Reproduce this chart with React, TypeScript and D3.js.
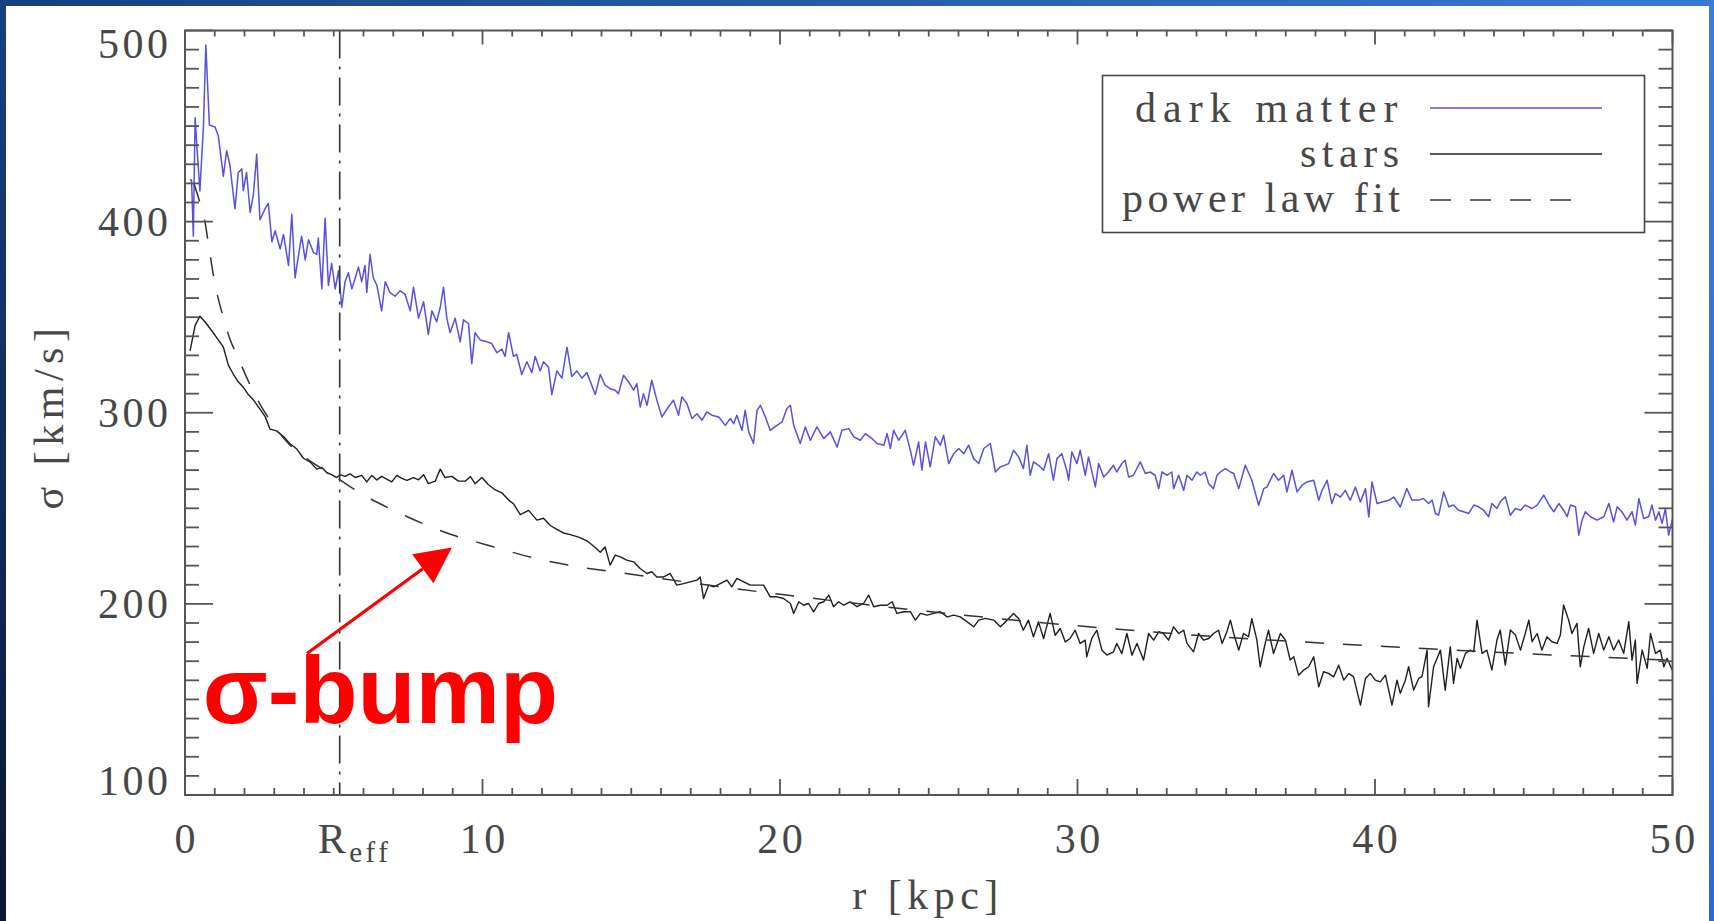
import React from "react";
import * as d3 from "d3";

const layout = {
    width: 1714,
    height: 921,
    left: 185,
    right: 1672.5,
    top: 30.5,
    bottom: 795
};

const radiusDomain = [0, 50];
const sigmaDomain = [100, 500];
const xTickValues = [0, 10, 20, 30, 40, 50];
const xTickLabels = ["0", "10", "20", "30", "40", "50"];
const yTickValues = [100, 200, 300, 400, 500];
const yTickLabels = ["100", "200", "300", "400", "500"];
const rEff = 5.2;

// [r (kpc), sigma (km/s)]
const darkMatter: [number, number][] = [
    [0.17, 421.6], [0.22, 421.9], [0.28, 392.4], [0.34, 454.3], [0.41, 437.0], [0.5, 416.0], [0.62, 450.0], [0.7, 492.4], [0.82, 450.5], [1.01, 449.5],
    [1.12, 444.8], [1.29, 423.8], [1.4, 437.1], [1.51, 429.5], [1.68, 406.7], [1.79, 425.7], [1.91, 427.6], [1.96, 416.2], [2.07, 425.7], [2.19, 404.8],
    [2.3, 414.3], [2.41, 435.2], [2.52, 401.0], [2.69, 406.7], [2.8, 409.5], [2.92, 389.5], [3.03, 395.2], [3.2, 385.7], [3.31, 393.3], [3.48, 377.1],
    [3.59, 403.8], [3.7, 370.5], [3.81, 381.9], [3.92, 392.4], [4.04, 380.0], [4.15, 390.5], [4.32, 383.8], [4.43, 382.9], [4.48, 391.4], [4.6, 364.8],
    [4.71, 401.9], [4.82, 366.7], [4.93, 378.1], [5.05, 364.8], [5.16, 374.3], [5.27, 355.2], [5.38, 368.6], [5.49, 373.3], [5.61, 364.8], [5.72, 370.5],
    [5.83, 376.2], [5.94, 368.6], [6.05, 377.1], [6.11, 362.9], [6.22, 382.9], [6.33, 370.5], [6.45, 366.7], [6.61, 353.3], [6.73, 368.6], [6.89, 362.9],
    [7.06, 361.0], [7.23, 363.8], [7.4, 361.9], [7.57, 353.3], [7.68, 365.7], [7.85, 349.5], [8.02, 358.1], [8.18, 341.0], [8.3, 353.3], [8.46, 347.6],
    [8.58, 355.2], [8.69, 365.7], [8.8, 349.5], [8.91, 341.9], [9.08, 349.5], [9.25, 337.1], [9.36, 348.6], [9.53, 346.7], [9.64, 325.7], [9.75, 341.9],
    [9.92, 338.1], [10.15, 337.1], [10.31, 336.2], [10.48, 331.4], [10.65, 333.3], [10.76, 329.5], [10.88, 341.9], [11.04, 329.5], [11.15, 330.5], [11.32, 320.0],
    [11.49, 326.7], [11.66, 321.0], [11.77, 329.5], [11.94, 321.9], [12.05, 326.7], [12.22, 323.8], [12.33, 309.5], [12.5, 321.9], [12.67, 318.1], [12.84, 334.3],
    [13.0, 319.0], [13.17, 321.9], [13.34, 318.1], [13.51, 321.0], [13.79, 309.5], [13.96, 320.0],
    [14.12, 314.4], [14.29, 312.6], [14.46, 311.8], [14.57, 310.0], [14.74, 319.6], [14.91, 316.1], [15.08, 311.8], [15.19, 315.2], [15.3, 303.0], [15.41, 310.0],
    [15.53, 303.9], [15.69, 317.0], [15.86, 306.6], [16.03, 297.8], [16.25, 303.0], [16.42, 306.6], [16.59, 298.7], [16.7, 308.3], [16.87, 304.8], [17.04, 297.0],
    [17.21, 299.5], [17.38, 296.1], [17.54, 300.4], [17.71, 298.7], [17.94, 297.8], [18.16, 293.4], [18.33, 297.0], [18.44, 294.3], [18.55, 298.7], [18.72, 290.8],
    [18.83, 301.3], [18.95, 290.0], [19.11, 283.9], [19.23, 301.3], [19.34, 303.9], [19.51, 297.8], [19.67, 290.8], [19.9, 293.4], [20.07, 295.2], [20.23, 302.2],
    [20.35, 303.9], [20.46, 293.4], [20.68, 283.9], [20.85, 292.6], [21.02, 285.6], [21.24, 292.6], [21.47, 286.5], [21.69, 290.0], [21.92, 282.1], [22.08, 290.8],
    [22.31, 291.7], [22.48, 287.4], [22.7, 285.6], [22.87, 289.1], [23.09, 286.5], [23.26, 283.9], [23.49, 283.0], [23.6, 289.1], [23.71, 281.3], [23.82, 290.8],
    [23.99, 285.6], [24.21, 290.8], [24.38, 280.4], [24.49, 272.5], [24.66, 284.7], [24.77, 269.9], [24.89, 284.7], [25.05, 271.7], [25.22, 287.4], [25.39, 283.0],
    [25.5, 288.2], [25.67, 273.4], [25.84, 278.6], [26.01, 281.3], [26.18, 278.6], [26.34, 283.0], [26.51, 276.0], [26.68, 273.4], [26.85, 281.3], [27.07, 283.9],
    [27.24, 269.0], [27.41, 271.7], [27.69, 273.4],
    [27.85, 280.4], [28.02, 276.9], [28.18, 270.8], [28.3, 283.0], [28.41, 267.3], [28.52, 274.3], [28.69, 272.5], [28.86, 269.9], [29.03, 278.6], [29.19, 264.7],
    [29.31, 276.0], [29.47, 278.6], [29.64, 269.9], [29.7, 264.7], [29.81, 279.5], [29.98, 273.4], [30.09, 280.4], [30.26, 267.3], [30.37, 276.9], [30.6, 261.2],
    [30.71, 273.4], [30.88, 266.4], [31.04, 269.0], [31.21, 272.5], [31.32, 269.0], [31.49, 273.4], [31.6, 275.1], [31.72, 266.4], [31.88, 267.3], [32.11, 274.3],
    [32.28, 268.2], [32.44, 269.0], [32.61, 267.3], [32.73, 260.3], [32.84, 269.0], [33.01, 267.3], [33.17, 269.0], [33.23, 260.3], [33.4, 267.3], [33.57, 259.4],
    [33.68, 267.3], [33.85, 264.7], [34.01, 269.0], [34.13, 267.3], [34.29, 269.0], [34.41, 262.9], [34.57, 260.3], [34.69, 267.3], [34.8, 269.0], [34.97, 270.8],
    [35.14, 269.0], [35.25, 268.2], [35.42, 260.3], [35.64, 272.5], [35.86, 264.7], [36.09, 251.6], [36.26, 260.3], [36.37, 261.2], [36.59, 268.2], [36.76, 264.7],
    [36.93, 267.3], [37.04, 258.6], [37.21, 269.9], [37.38, 258.6], [37.55, 262.1], [37.71, 263.8], [37.94, 264.7], [38.11, 254.2], [38.22, 259.4], [38.39, 264.7],
    [38.55, 252.5], [38.67, 257.7], [38.84, 255.9], [39.0, 259.4], [39.17, 254.2], [39.34, 261.2], [39.51, 253.3], [39.68, 260.3], [39.79, 245.5], [39.9, 263.8],
    [40.07, 252.5], [40.24, 253.3], [40.46, 254.2], [40.63, 255.9], [40.85, 250.7],
    [41.07, 260.4], [41.24, 254.3], [41.47, 254.3], [41.63, 255.1], [41.8, 252.5], [41.92, 254.3], [42.03, 247.3], [42.14, 246.4], [42.31, 258.6], [42.48, 250.8],
    [42.64, 251.7], [42.81, 249.0], [42.98, 248.2], [43.15, 247.3], [43.32, 251.7], [43.48, 250.8], [43.65, 249.0], [43.82, 245.6], [43.93, 252.5], [44.1, 249.9],
    [44.21, 253.4], [44.38, 256.0], [44.55, 246.4], [44.72, 249.9], [44.89, 249.0], [45.05, 251.7], [45.28, 249.9], [45.45, 251.7], [45.67, 256.9], [45.89, 250.8],
    [46.01, 248.2], [46.18, 252.5], [46.34, 249.0], [46.46, 245.6], [46.57, 251.7], [46.74, 250.8], [46.85, 236.0], [46.96, 243.8], [47.07, 248.2], [47.24, 245.6],
    [47.46, 243.8], [47.69, 245.6], [47.86, 252.5], [48.02, 242.9], [48.14, 250.8], [48.3, 248.2], [48.47, 243.8], [48.64, 248.2], [48.75, 241.2], [48.87, 255.1],
    [49.03, 244.7], [49.2, 245.6], [49.31, 251.7], [49.43, 243.8], [49.54, 248.2], [49.65, 242.1], [49.76, 249.9], [49.87, 236.0], [49.99, 243.8]
];

const stars: [number, number][] = [
    [0.17, 332.4], [0.34, 345.7], [0.5, 350.5], [0.67, 347.6], [0.9, 342.9], [1.12, 338.1], [1.29, 334.3], [1.46, 324.8], [1.63, 320.0], [1.79, 316.2],
    [1.96, 313.3], [2.13, 309.5], [2.3, 306.7], [2.52, 301.9], [2.69, 298.1], [2.86, 291.4], [3.08, 290.5], [3.31, 287.6], [3.53, 283.8], [3.76, 281.0],
    [3.98, 276.2], [4.2, 274.3], [4.43, 270.5], [4.6, 271.4], [4.77, 268.6], [4.93, 267.6], [5.1, 266.1], [5.21, 267.6], [5.38, 266.7], [5.55, 268.0],
    [5.72, 266.1], [5.94, 267.2], [6.11, 263.8], [6.28, 267.2], [6.45, 264.8], [6.61, 266.7], [6.78, 265.3], [6.95, 263.8], [7.12, 267.2], [7.29, 265.7],
    [7.46, 264.6], [7.68, 266.1], [7.85, 264.9], [8.02, 267.6], [8.18, 262.9], [8.41, 264.2], [8.58, 270.5], [8.74, 266.1], [8.97, 266.7], [9.19, 264.2],
    [9.42, 264.2], [9.59, 266.7], [9.75, 262.9], [9.98, 266.1], [10.2, 262.3], [10.43, 259.6], [10.65, 258.1], [10.88, 254.3], [11.04, 252.4], [11.27, 246.7],
    [11.55, 248.9], [11.83, 243.8], [12.05, 244.8], [12.28, 241.0], [12.5, 239.0], [12.72, 237.1], [12.95, 236.2], [13.23, 234.9], [13.51, 233.0], [13.79, 229.5],
    [13.96, 227.0],
    [14.12, 229.8], [14.29, 220.3], [14.46, 225.5], [14.63, 224.6], [14.85, 222.9], [15.08, 222.0], [15.3, 218.5], [15.53, 215.9], [15.69, 216.8], [15.86, 214.1],
    [16.09, 214.1], [16.31, 215.9], [16.53, 209.8], [16.76, 210.6], [16.98, 211.5], [17.21, 212.4], [17.32, 214.1], [17.43, 202.8], [17.6, 209.8], [17.77, 208.9],
    [17.99, 210.6], [18.22, 212.4], [18.38, 208.9], [18.55, 213.3], [18.78, 211.5], [19.0, 209.8], [19.23, 209.8], [19.45, 209.8], [19.67, 203.7], [19.9, 203.7],
    [20.12, 202.8], [20.35, 200.2], [20.46, 195.0], [20.63, 201.1], [20.79, 199.3], [20.96, 200.2], [21.13, 195.8], [21.3, 200.2], [21.47, 201.1], [21.64, 204.6],
    [21.8, 198.5], [21.97, 201.1], [22.14, 199.3], [22.36, 201.1], [22.59, 198.5], [22.81, 200.2], [22.98, 204.6], [23.15, 198.5], [23.37, 199.3], [23.6, 199.3],
    [23.77, 201.1], [23.93, 195.0], [24.16, 195.9], [24.38, 195.9], [24.55, 191.5], [24.72, 195.0], [24.94, 194.1], [25.17, 195.0], [25.39, 195.9], [25.62, 193.2],
    [25.84, 194.1], [26.06, 193.2], [26.29, 190.6], [26.51, 188.0], [26.68, 191.5], [26.9, 192.4], [27.18, 191.5], [27.41, 188.0], [27.69, 192.4],
    [27.85, 195.0], [28.02, 192.3], [28.18, 186.2], [28.35, 191.5], [28.52, 182.8], [28.69, 190.6], [28.86, 181.9], [29.08, 195.0], [29.25, 183.6], [29.42, 187.1],
    [29.59, 180.1], [29.75, 181.9], [29.92, 186.2], [30.09, 179.3], [30.26, 181.0], [30.31, 172.3], [30.48, 181.9], [30.65, 186.2], [30.82, 175.8], [30.99, 173.2],
    [31.21, 174.9], [31.32, 179.3], [31.49, 174.0], [31.66, 184.5], [31.83, 173.2], [32.0, 179.3], [32.22, 170.6], [32.39, 184.5], [32.56, 181.0], [32.73, 185.4],
    [32.89, 184.5], [33.06, 181.0], [33.23, 188.0], [33.4, 184.5], [33.57, 186.2], [33.68, 179.3], [33.9, 174.9], [34.07, 184.5], [34.24, 181.0], [34.41, 181.9],
    [34.57, 184.5], [34.74, 186.2], [34.86, 179.3], [35.02, 185.4], [35.14, 191.5], [35.25, 184.5], [35.42, 175.8], [35.58, 184.5], [35.75, 182.8], [35.86, 192.3],
    [36.03, 181.0], [36.14, 167.1], [36.31, 179.3], [36.42, 186.2], [36.59, 174.0], [36.82, 184.5], [36.99, 181.0], [37.15, 170.6], [37.27, 172.3], [37.43, 162.7],
    [37.6, 165.3], [37.77, 167.1], [37.94, 172.3], [38.11, 156.6], [38.27, 164.5], [38.44, 163.6], [38.61, 161.8], [38.78, 167.9], [38.95, 160.1], [39.12, 163.6],
    [39.28, 161.8], [39.51, 147.0], [39.68, 161.0], [39.84, 163.6], [40.01, 160.1], [40.18, 159.2], [40.35, 162.7], [40.57, 147.0], [40.74, 160.1],
    [40.85, 153.2], [41.02, 160.1], [41.13, 167.1], [41.3, 154.9], [41.47, 161.0], [41.58, 161.9], [41.75, 175.8], [41.8, 146.2], [41.97, 167.1], [42.2, 175.8],
    [42.36, 154.9], [42.53, 177.6], [42.64, 158.4], [42.76, 171.5], [42.87, 166.3], [43.04, 174.1], [43.2, 175.8], [43.32, 175.0], [43.43, 191.5], [43.6, 174.1],
    [43.76, 175.8], [43.93, 165.4], [44.1, 181.1], [44.21, 186.3], [44.38, 168.0], [44.55, 186.3], [44.72, 183.7], [44.89, 175.8], [45.05, 184.5], [45.17, 191.5],
    [45.28, 180.2], [45.45, 184.5], [45.61, 175.8], [45.78, 182.8], [45.95, 180.2], [46.12, 179.3], [46.23, 183.7], [46.34, 199.4], [46.51, 191.5], [46.62, 184.5],
    [46.79, 189.8], [46.9, 167.1], [47.02, 177.6], [47.18, 187.2], [47.35, 174.1], [47.52, 184.5], [47.69, 175.8], [47.86, 182.8], [48.02, 175.8], [48.19, 181.1],
    [48.36, 174.1], [48.53, 190.7], [48.64, 170.6], [48.75, 181.1], [48.81, 158.4], [48.98, 175.8], [49.15, 166.3], [49.26, 184.5], [49.43, 174.1], [49.59, 175.8],
    [49.71, 167.1], [49.82, 171.5], [49.99, 165.4]
];

const fitRadius = [0.3, 0.5, 0.67, 0.8, 1, 1.25, 1.5, 1.75, 2, 2.5, 3, 3.5, 4, 5, 6, 7, 8, 9, 10, 11, 12, 13, 15, 17.5, 20, 25, 30, 35, 40, 45, 50];
const fitSigma = [420, 410, 400, 387, 368, 352, 339, 330, 321, 305, 293, 283.5, 277, 267, 257, 249, 242, 236, 231.5, 227, 223, 220, 215.5, 210, 205, 196, 188.5, 182.5, 178, 174, 170.5];

const legendItems = [
    { label: "dark matter", color: "#5a4fe0", dash: undefined },
    { label: "stars", color: "#222", dash: undefined },
    { label: "power law fit", color: "#333", dash: "21,19" }
];

const bumpLabel = "σ-bump";
const bumpTextAt = [0.6, 137.6];
const bumpArrowFrom = [4.1, 174];
const bumpArrowTo = [8.97, 229.5];

const serif = "'Liberation Serif', 'Times New Roman', serif";
const ink = "#474747";

const App = () => {
    const xScale = d3.scaleLinear().domain(radiusDomain).range([layout.left, layout.right]);
    const yScale = d3.scaleLinear().domain(sigmaDomain).range([layout.bottom, layout.top]);

    const lineGenerator = d3.line<[number, number]>()
        .x(d => xScale(d[0]))
        .y(d => yScale(d[1]));
    const fitGenerator = d3.line<number>()
        .x((d, i) => xScale(fitRadius[i]))
        .y(d => yScale(d))
        .curve(d3.curveMonotoneX);

    const xMinor = xScale.ticks(50);
    const yMinor = yScale.ticks(40);

    const ticks = [];
    xMinor.forEach((t, i) => {
        const major = t % 10 === 0;
        const px = xScale(t);
        ticks.push(<line key={"b" + i} x1={px} x2={px} y1={layout.bottom} y2={layout.bottom - (major ? 16 : 7)} />);
        ticks.push(<line key={"t" + i} x1={px} x2={px} y1={layout.top} y2={layout.top + (major ? 14 : 6)} />);
    });
    yMinor.forEach((t, i) => {
        const major = t % 100 === 0;
        const py = yScale(t);
        ticks.push(<line key={"l" + i} x1={layout.left} x2={layout.left + (major ? 28 : 14)} y1={py} y2={py} />);
        ticks.push(<line key={"r" + i} x1={layout.right} x2={layout.right - (major ? 28 : 14)} y1={py} y2={py} />);
    });

    // arrow head for the annotation
    const ax0 = xScale(bumpArrowFrom[0]);
    const ay0 = yScale(bumpArrowFrom[1]);
    const ax1 = xScale(bumpArrowTo[0]);
    const ay1 = yScale(bumpArrowTo[1]);
    const angle = Math.atan2(ay1 - ay0, ax1 - ax0);
    const headLen = 36;
    const headHalf = 18;
    const bx = ax1 - headLen * Math.cos(angle);
    const by = ay1 - headLen * Math.sin(angle);
    const head = [
        [ax1, ay1],
        [bx + headHalf * Math.sin(angle), by - headHalf * Math.cos(angle)],
        [bx - headHalf * Math.sin(angle), by + headHalf * Math.cos(angle)]
    ].map(p => p.join(",")).join(" ");

    const lastY = yTickValues.length - 1;

    return (
        <svg
            width={layout.width}
            height={layout.height}
            style={{ position: "absolute", left: 0, top: 0, background: "#fff" }}
        >
            <defs>
                <linearGradient id="topBand" x1="0" x2="1" y1="0" y2="0">
                    <stop offset="0" stopColor="#16417e" />
                    <stop offset="1" stopColor="#3a79d8" />
                </linearGradient>
                <linearGradient id="leftBand" x1="0" x2="0" y1="0" y2="1">
                    <stop offset="0" stopColor="#17427f" />
                    <stop offset="1" stopColor="#0a1733" />
                </linearGradient>
                <linearGradient id="rightBand" x1="0" x2="0" y1="0" y2="1">
                    <stop offset="0" stopColor="#3b7bd9" />
                    <stop offset="1" stopColor="#2c68d2" />
                </linearGradient>
            </defs>

            <rect x={0} y={0} width={layout.width} height={layout.height} fill="#fff" />

            {/* data */}
            <path d={lineGenerator(darkMatter)} fill="none" stroke="#5a4fe0" strokeWidth={1.5} strokeLinejoin="round" />
            <path d={lineGenerator(stars)} fill="none" stroke="#1e1e1e" strokeWidth={1.4} strokeLinejoin="round" />
            <path d={fitGenerator(fitSigma)} fill="none" stroke="#333" strokeWidth={1.5} strokeDasharray="19,19" />

            <line
                x1={xScale(rEff)} x2={xScale(rEff)} y1={layout.top} y2={layout.bottom}
                stroke="#333" strokeWidth={1.6} strokeDasharray="28,8,3,8"
            />

            {/* frame and ticks */}
            <g stroke="#555" strokeWidth={1.8}>{ticks}</g>
            <rect
                x={layout.left} y={layout.top}
                width={layout.right - layout.left} height={layout.bottom - layout.top}
                fill="none" stroke="#555" strokeWidth={2}
            />

            {/* tick labels */}
            <g fontFamily={serif} fontSize={42} fill={ink} letterSpacing={3.5}>
                {yTickValues.map((t, i) => (
                    <text
                        key={t}
                        x={168 + 3.5}
                        y={yScale(t) + (i === 0 ? 0 : i === lastY ? 27 : 14)}
                        textAnchor="end"
                    >
                        {yTickLabels[i]}
                    </text>
                ))}
                {xTickValues.map((t, i) => (
                    <text key={t} x={xScale(t) + 1.75} y={853} textAnchor="middle">
                        {xTickLabels[i]}
                    </text>
                ))}
                <text x={xScale(rEff) - 22} y={853}>
                    R<tspan fontSize={29} dy={9}>eff</tspan>
                </text>
            </g>

            {/* axis titles */}
            <g fontFamily={serif} fontSize={42} fill={ink} letterSpacing={5.5}>
                <text x={928} y={909} textAnchor="middle">r [kpc]</text>
                <text transform="translate(63,416) rotate(-90)" textAnchor="middle">σ [km/s]</text>
            </g>

            {/* legend */}
            <rect x={1102.5} y={75.5} width={542} height={157} fill="#fff" stroke="#444" strokeWidth={1.6} />
            {legendItems.map((item, i) => (
                <g key={item.label}>
                    <text
                        x={1399 + 5.5} y={122 + i * 45}
                        textAnchor="end" fontFamily={serif} fontSize={42}
                        fill={ink} letterSpacing={i === 0 ? 7 : i === 2 ? 4.5 : 5.5}
                    >
                        {item.label}
                    </text>
                    <line
                        x1={1430} x2={item.dash ? 1585 : 1602}
                        y1={108 + i * 46} y2={108 + i * 46}
                        stroke={item.color} strokeWidth={1.6}
                        strokeDasharray={item.dash}
                    />
                </g>
            ))}

            {/* annotation */}
            <line x1={ax0} y1={ay0} x2={bx} y2={by} stroke="#ff0000" strokeWidth={3.2} />
            <polygon points={head} fill="#ff0000" />
            <text
                x={xScale(bumpTextAt[0])} y={yScale(bumpTextAt[1])}
                fontFamily="'Liberation Sans', Arial, sans-serif" fontWeight="bold"
                fontSize={95} fill="#ff0000"
            >
                {bumpLabel}
            </text>

            {/* slide border */}
            <rect x={0} y={0} width={layout.width} height={6} fill="url(#topBand)" />
            <rect x={0} y={0} width={6} height={layout.height} fill="url(#leftBand)" />
            <rect x={1709} y={0} width={5} height={layout.height} fill="url(#rightBand)" />
        </svg>
    );
};

export default App;
